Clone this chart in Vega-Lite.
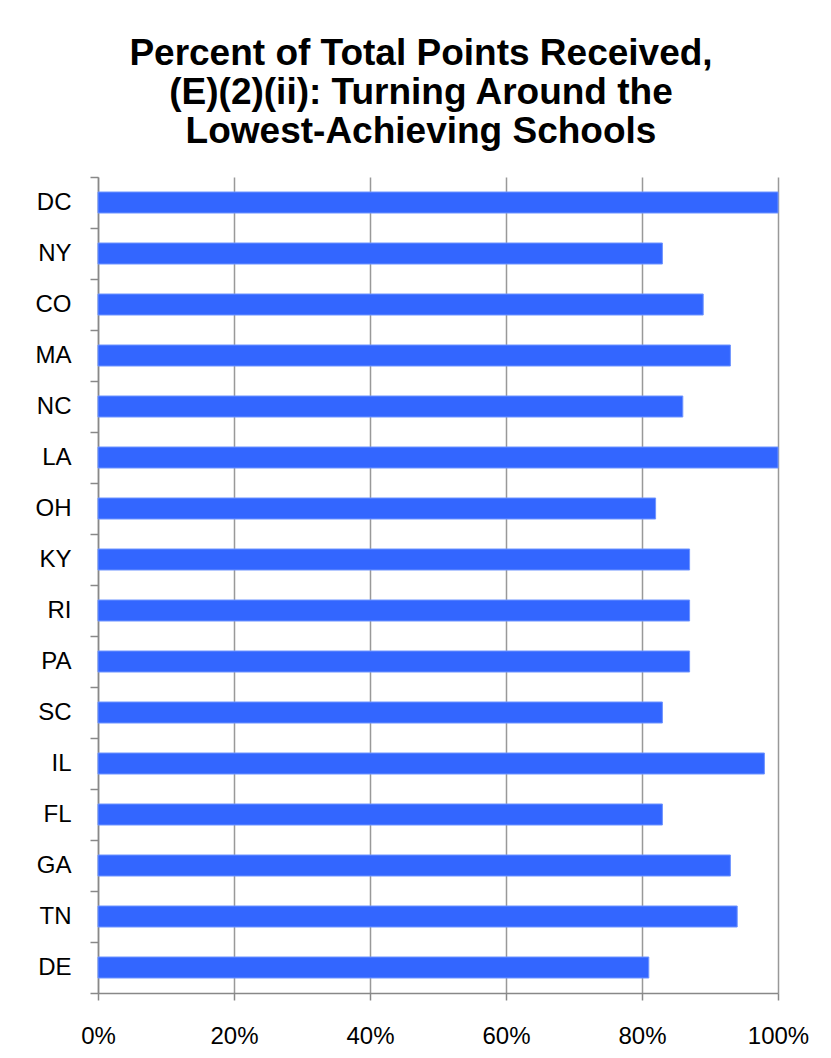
{
  "$schema": "https://vega.github.io/schema/vega-lite/v6.json",
  "width": 680,
  "height": 816,
  "autosize": {"type": "none"},
  "padding": {"left": 98, "top": 177, "right": 53, "bottom": 65},
  "background": "white",
  "title": {
    "text": ["Percent of Total Points Received,", "(E)(2)(ii): Turning Around the", "Lowest-Achieving Schools"],
    "font": "Liberation Sans",
    "fontSize": 37,
    "fontWeight": "bold",
    "color": "black",
    "lineHeight": 39,
    "anchor": "middle",
    "dx": -17,
    "dy": 41,
    "offset": 26,
    "baseline": "alphabetic"
  },
  "data": {
    "values": [
      {"state": "DC", "pct": 1.00},
      {"state": "NY", "pct": 0.83},
      {"state": "CO", "pct": 0.89},
      {"state": "MA", "pct": 0.93},
      {"state": "NC", "pct": 0.86},
      {"state": "LA", "pct": 1.00},
      {"state": "OH", "pct": 0.82},
      {"state": "KY", "pct": 0.87},
      {"state": "RI", "pct": 0.87},
      {"state": "PA", "pct": 0.87},
      {"state": "SC", "pct": 0.83},
      {"state": "IL", "pct": 0.98},
      {"state": "FL", "pct": 0.83},
      {"state": "GA", "pct": 0.93},
      {"state": "TN", "pct": 0.94},
      {"state": "DE", "pct": 0.81}
    ]
  },
  "mark": {"type": "bar", "color": "#3366ff", "stroke": "#6f94ff", "strokeWidth": 1, "size": 21},
  "encoding": {
    "y": {
      "field": "state",
      "type": "nominal",
      "sort": null,
      "scale": {"paddingInner": 0, "paddingOuter": 0},
      "axis": {
        "title": null,
        "tickBand": "extent",
        "tickSize": 8,
        "tickColor": "#888888",
        "tickWidth": 1.5,
        "domainColor": "#888888",
        "domainWidth": 1.5,
        "labelFontSize": 24,
        "labelFont": "Liberation Sans",
        "labelColor": "black",
        "labelPadding": 19,
        "grid": false
      }
    },
    "x": {
      "field": "pct",
      "type": "quantitative",
      "scale": {"domain": [0, 1], "nice": false},
      "axis": {
        "title": null,
        "format": "%",
        "values": [0, 0.2, 0.4, 0.6, 0.8, 1],
        "labelFlush": false,
        "labelOverlap": false,
        "grid": true,
        "gridColor": "#999999",
        "gridWidth": 1.5,
        "tickSize": 7,
        "tickColor": "#888888",
        "tickWidth": 1.5,
        "domainColor": "#888888",
        "domainWidth": 1.5,
        "labelFontSize": 24,
        "labelFont": "Liberation Sans",
        "labelColor": "black",
        "labelPadding": 24
      }
    }
  },
  "config": {"view": {"stroke": null}}
}
